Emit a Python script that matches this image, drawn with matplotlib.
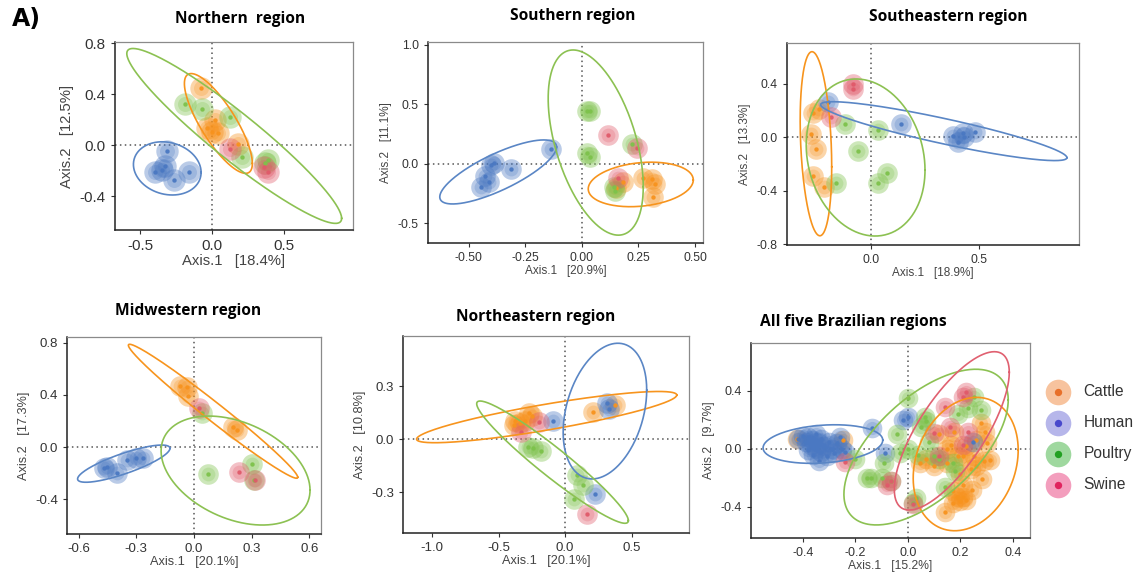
import numpy as np
import matplotlib
matplotlib.use("Agg")
import matplotlib.pyplot as plt

plt.rcParams['font.family'] = ['Liberation Sans', 'DejaVu Sans']
plt.rcParams['axes.unicode_minus'] = False

GROUPS = ['Cattle', 'Human', 'Poultry', 'Swine']

# ---------------- Northern region ----------------
NORTH_TITLE = 'Northern  region'
NORTH_AXES = ('Axis.1   [18.4%]', 'Axis.2   [12.5%]')
NORTH_CATTLE = [(-0.076, 0.452), (-0.037, 0.136), (0.021, 0.196), (0.044, 0.097),
                (-0.002, 0.105), (0.178, 0.008)]
NORTH_HUMAN = [(-0.315, -0.047), (-0.396, -0.209), (-0.35, -0.196), (-0.326, -0.165),
               (-0.262, -0.275), (-0.16, -0.209)]
NORTH_POULTRY = [(-0.188, 0.32), (-0.067, 0.28), (0.125, 0.222), (0.206, -0.092),
                 (0.386, -0.118), (0.37, -0.14)]
NORTH_SWINE = [(0.125, -0.031), (0.361, -0.17), (0.386, -0.215)]
# ellipse: centre x, centre y, half x-extent, half y-extent, correlation
NORTH_ELL = {'Cattle': (0.044, 0.17, 0.236, 0.392, -0.80),
             'Human': (-0.311, -0.183, 0.235, 0.209, -0.15),
             'Poultry': (0.154, 0.072, 0.746, 0.687, -0.942)}

# ---------------- Southern region ----------------
SOUTH_TITLE = 'Southern region'
SOUTH_AXES = ('Axis.1   [20.9%]', 'Axis.2   [11.1%]')
SOUTH_CATTLE = [(0.183, -0.149), (0.271, -0.12), (0.31, -0.13), (0.323, -0.171),
                (0.313, -0.275), (0.15, -0.20)]
SOUTH_HUMAN = [(-0.137, 0.126), (-0.389, 0.006), (-0.40, -0.01), (-0.314, -0.045),
               (-0.426, -0.10), (-0.41, -0.149), (-0.448, -0.196)]
SOUTH_POULTRY = [(0.021, 0.448), (0.035, 0.448), (0.021, 0.095), (0.035, 0.062),
                 (0.22, 0.168), (0.146, -0.224), (0.14, -0.19)]
SOUTH_SWINE = [(0.117, 0.244), (0.242, 0.132), (0.161, -0.12)]
SOUTH_ELL = {'Cattle': (0.26, -0.172, 0.232, 0.187, 0.2),
             'Human': (-0.37, -0.067, 0.258, 0.269, 0.78),
             'Poultry': (0.061, 0.18, 0.21, 0.778, -0.476)}

# ---------------- Southeastern region ----------------
SE_TITLE = 'Southeastern region'
SE_AXES = ('Axis.1   [18.9%]', 'Axis.2   [13.3%]')
SE_CATTLE = [(-0.27, 0.182), (-0.24, 0.21), (-0.278, 0.022), (-0.255, -0.09),
             (-0.267, -0.289), (-0.218, -0.371)]
SE_HUMAN = [(-0.198, 0.264), (0.139, 0.095), (0.427, 0.028), (0.404, -0.035),
            (0.381, 0.007), (0.481, 0.035), (0.43, 0.0)]
SE_POULTRY = [(-0.12, 0.095), (0.034, 0.052), (-0.062, -0.105), (-0.162, -0.342),
              (0.031, -0.346), (0.073, -0.272)]
SE_SWINE = [(-0.085, 0.40), (-0.085, 0.357), (-0.185, 0.152)]
SE_ELL = {'Cattle': (-0.255, -0.05, 0.073, 0.688, -0.25),
          'Human': (0.337, 0.044, 0.57, 0.22, -0.90),
          'Poultry': (-0.025, -0.153, 0.275, 0.587, -0.16)}

# ---------------- Midwestern region ----------------
MW_TITLE = 'Midwestern region'
MW_AXES = ('Axis.1   [20.1%]', 'Axis.2   [17.3%]')
MW_CATTLE = [(-0.073, 0.472), (-0.038, 0.464), (-0.03, 0.395), (0.204, 0.156),
             (0.222, 0.131)]
MW_HUMAN = [(-0.454, -0.151), (-0.47, -0.16), (-0.402, -0.202), (-0.35, -0.10),
            (-0.301, -0.087), (-0.263, -0.087)]
MW_POULTRY = [(0.04, 0.259), (0.074, -0.21), (0.30, -0.131), (0.31, -0.254)]
MW_SWINE = [(0.026, 0.297), (0.235, -0.19), (0.317, -0.254)]
MW_ELL = {'Cattle': (0.099, 0.275, 0.44, 0.515, -0.985),
          'Human': (-0.365, -0.128, 0.24, 0.143, 0.82),
          'Poultry': (0.216, -0.181, 0.387, 0.419, -0.36)}

# ---------------- Northeastern region ----------------
NE_TITLE = 'Northeastern region'
NE_AXES = ('Axis.1   [20.1%]', 'Axis.2   [10.8%]')
NE_CATTLE = [(-0.268, 0.149), (-0.376, 0.102), (-0.338, 0.089), (-0.38, 0.08),
             (-0.30, 0.10), (-0.25, 0.13), (0.208, 0.155), (0.376, 0.192)]
NE_HUMAN = [(-0.088, 0.102), (0.313, 0.202), (0.333, 0.168), (0.226, -0.313)]
NE_POULTRY = [(-0.276, -0.043), (-0.24, -0.05), (-0.18, -0.066), (0.088, -0.204),
              (0.138, -0.26), (0.068, -0.341)]
NE_SWINE = [(-0.193, 0.098), (-0.331, 0.041), (0.163, -0.424)]
NE_ELL = {'Cattle': (-0.138, 0.124, 0.978, 0.145, 0.86),
          'Human': (0.30, 0.158, 0.314, 0.384, 0.31),
          'Poultry': (-0.094, -0.131, 0.57, 0.346, -0.955)}

# ---------------- All five regions ----------------
ALL_TITLE = 'All five Brazilian regions'
ALL_AXES = ('Axis.1   [15.2%]', 'Axis.2   [9.7%]')
ALL_CATTLE = [(-0.424, 0.069), (-0.246, 0.062), (0.046, -0.10), (0.07, -0.07),
              (0.141, -0.432), (0.17, -0.37), (0.20, -0.36), (0.21, -0.33),
              (0.22, -0.35), (0.187, -0.33), (0.243, -0.283), (0.281, -0.21),
              (0.312, -0.076), (0.20, -0.17), (0.24, -0.14), (0.26, -0.12),
              (0.29, -0.08), (0.30, 0.04), (0.295, 0.12), (0.28, 0.18),
              (0.176, 0.12), (0.163, 0.03), (0.15, 0.0), (0.22, 0.02),
              (0.21, -0.05), (0.25, -0.05), (0.26, 0.06), (0.19, -0.05),
              (0.15, -0.10), (0.10, -0.12), (0.21, -0.25), (0.17, -0.29),
              (0.12, 0.10)]
ALL_HUMAN = [(-0.42, 0.07), (-0.40, 0.09), (-0.39, 0.05), (-0.38, 0.08),
             (-0.37, 0.03), (-0.36, 0.06), (-0.35, 0.10), (-0.35, 0.0),
             (-0.34, 0.04), (-0.33, -0.02), (-0.33, 0.07), (-0.32, 0.02),
             (-0.31, -0.05), (-0.30, 0.05), (-0.29, 0.0), (-0.28, -0.03),
             (-0.27, 0.04), (-0.26, 0.08), (-0.25, 0.0), (-0.24, -0.02),
             (-0.38, -0.01), (-0.36, -0.04), (-0.34, -0.08), (-0.138, 0.143),
             (-0.088, -0.03), (-0.018, 0.20), (0.0, 0.22), (0.249, 0.05)]
ALL_POULTRY = [(0.0, 0.35), (-0.04, 0.10), (0.0, 0.0), (-0.03, -0.03),
               (-0.09, -0.10), (-0.155, -0.20), (-0.14, -0.20), (-0.10, -0.20),
               (-0.065, -0.22), (-0.20, -0.07), (0.064, 0.22), (0.07, 0.19),
               (0.05, 0.15), (0.08, 0.05), (0.10, -0.05), (0.14, -0.26),
               (0.18, -0.15), (0.19, 0.24), (0.23, 0.28), (0.28, 0.27),
               (0.25, 0.36), (0.03, -0.34), (0.02, -0.37), (0.12, -0.07),
               (0.17, -0.10), (0.04, -0.04)]
ALL_SWINE = [(-0.24, -0.088), (-0.065, -0.22), (-0.08, -0.25), (0.141, 0.292),
             (0.22, 0.39), (0.21, 0.36), (0.10, 0.11), (0.16, 0.15),
             (0.23, 0.12), (0.21, 0.03), (0.12, -0.05), (0.02, -0.38)]
ALL_ELL = {'Cattle': (0.22, -0.104, 0.20, 0.46, 0.21),
           'Human': (-0.324, 0.034, 0.228, 0.133, 0.2),
           'Poultry': (0.069, 0.013, 0.313, 0.537, 0.605),
           'Swine': (0.167, 0.125, 0.219, 0.546, 0.74)}

# ---------------- styling ----------------
PT_COL = {'Cattle': '#F7931E', 'Human': '#4A78C2', 'Poultry': '#7DC24B', 'Swine': '#E05A6A'}
EL_COL = {'Cattle': '#F7941D', 'Human': '#5A86C5', 'Poultry': '#8CC152', 'Swine': '#E06070'}
LEG_LIGHT = {'Cattle': '#F4A46A', 'Human': '#8F8FE0', 'Poultry': '#6CC36C', 'Swine': '#EE6A9A'}
LEG_DARK = {'Cattle': '#E8702A', 'Human': '#4848CC', 'Poultry': '#22A022', 'Swine': '#E0245E'}

W, H = 1143, 575
fig = plt.figure(figsize=(W / 100, H / 100), dpi=100)


def box(x0, y0, x1, y1):
    return [x0 / W, 1 - y1 / H, (x1 - x0) / W, (y1 - y0) / H]


def draw_panel(rect, title, labels, groups, ells, xlim, ylim, xt, yt, xfmt, yfmt,
               tfs, title_y, title_x, halo=190, title_fs=11.2):
    ax = fig.add_axes(box(*rect))
    for g, pts in zip(GROUPS, groups):
        if not pts:
            continue
        a = np.array(pts)
        ax.scatter(a[:, 0], a[:, 1], s=halo, color=PT_COL[g], alpha=0.38, lw=0, zorder=2)
        ax.scatter(a[:, 0], a[:, 1], s=halo * 0.45, color=PT_COL[g], alpha=0.25, lw=0, zorder=2)
        ax.scatter(a[:, 0], a[:, 1], s=10, color=PT_COL[g], alpha=0.95, lw=0, zorder=3)
    t = np.linspace(0, 2 * np.pi, 300)
    for g, (cx, cy, rx, ry, rho) in ells.items():
        ex = cx + rx * np.cos(t)
        ey = cy + ry * (rho * np.cos(t) + np.sqrt(1 - rho ** 2) * np.sin(t))
        ax.plot(ex, ey, color=EL_COL[g], lw=1.2, zorder=4)
    ax.axhline(0, color='#555555', lw=1.1, ls=(0, (1, 2.2)), zorder=1)
    ax.axvline(0, color='#555555', lw=1.1, ls=(0, (1, 2.2)), zorder=1)
    ax.set_xlim(*xlim)
    ax.set_ylim(*ylim)
    ax.set_xticks(xt)
    ax.set_yticks(yt)
    ax.set_xticklabels([xfmt % v for v in xt])
    ax.set_yticklabels([yfmt % v for v in yt])
    ax.tick_params(labelsize=tfs, colors='#333333', length=3, width=0.8)
    for s in ['top', 'right']:
        ax.spines[s].set_color('#8a8a8a')
        ax.spines[s].set_linewidth(0.9)
    for s in ['left', 'bottom']:
        ax.spines[s].set_color('#222222')
        ax.spines[s].set_linewidth(1.1)
    ax.set_xlabel(labels[0], fontsize=tfs - 0.3, color='#444444', labelpad=1)
    ax.set_ylabel(labels[1], fontsize=tfs - 0.3, color='#444444', labelpad=4)
    fig.text(title_x / W, 1 - title_y / H, title, ha='center', va='center',
             fontsize=title_fs, fontweight='bold', family=['Open Sans', 'DejaVu Sans'])
    return ax


draw_panel((115, 42, 353, 230), NORTH_TITLE, NORTH_AXES,
           [NORTH_CATTLE, NORTH_HUMAN, NORTH_POULTRY, NORTH_SWINE], NORTH_ELL,
           (-0.674, 0.979), (-0.667, 0.81), [-0.5, 0.0, 0.5], [-0.4, 0.0, 0.4, 0.8],
           '%.1f', '%.1f', 11, 19, 240, halo=260)
draw_panel((428, 42, 703, 243), SOUTH_TITLE, SOUTH_AXES,
           [SOUTH_CATTLE, SOUTH_HUMAN, SOUTH_POULTRY, SOUTH_SWINE], SOUTH_ELL,
           (-0.68, 0.535), (-0.664, 1.025), [-0.5, -0.25, 0.0, 0.25, 0.5],
           [-0.5, 0.0, 0.5, 1.0], '%.2f', '%.1f', 8.8, 16, 573, halo=220)
draw_panel((787, 43, 1079, 245), SE_TITLE, SE_AXES,
           [SE_CATTLE, SE_HUMAN, SE_POULTRY, SE_SWINE], SE_ELL,
           (-0.389, 0.963), (-0.807, 0.703), [0.0, 0.5], [-0.8, -0.4, 0.0, 0.4],
           '%.1f', '%.1f', 8.8, 17, 948, halo=220)
draw_panel((67, 337, 321, 534), MW_TITLE, MW_AXES,
           [MW_CATTLE, MW_HUMAN, MW_POULTRY, MW_SWINE], MW_ELL,
           (-0.66, 0.66), (-0.669, 0.846), [-0.6, -0.3, 0.0, 0.3, 0.6],
           [-0.4, 0.0, 0.4, 0.8], '%.1f', '%.1f', 9.5, 311, 188, halo=220)
draw_panel((403, 336, 689, 533), NE_TITLE, NE_AXES,
           [NE_CATTLE, NE_HUMAN, NE_POULTRY, NE_SWINE], NE_ELL,
           (-1.218, 0.932), (-0.532, 0.583), [-1.0, -0.5, 0.0, 0.5],
           [-0.3, 0.0, 0.3], '%.1f', '%.1f', 9.5, 317, 536, halo=220)
draw_panel((751, 343, 1030, 538), ALL_TITLE, ALL_AXES,
           [ALL_CATTLE, ALL_HUMAN, ALL_POULTRY, ALL_SWINE], ALL_ELL,
           (-0.598, 0.465), (-0.614, 0.731), [-0.4, -0.2, 0.0, 0.2, 0.4],
           [-0.4, 0.0, 0.4], '%.1f', '%.1f', 9, 322, 853, halo=200)

fig.text(12 / W, 1 - 19 / H, 'A)', fontsize=17, fontweight='bold', va='center',
         ha='left', family=['DejaVu Sans'])

# legend drawn in its own invisible axes
lax = fig.add_axes(box(1040, 376, 1143, 500))
lax.set_xlim(0, 1)
lax.set_ylim(len(GROUPS) - 0.5, -0.5)
lax.axis('off')
for i, g in enumerate(GROUPS):
    lax.scatter([0.17], [i], s=340, color=LEG_LIGHT[g], alpha=0.65, lw=0)
    lax.scatter([0.17], [i], s=28, color=LEG_DARK[g], lw=0)
    lax.text(0.42, i, g, va='center', ha='left', fontsize=11.2, color='#333333')

fig.savefig('out.png', dpi=100)
